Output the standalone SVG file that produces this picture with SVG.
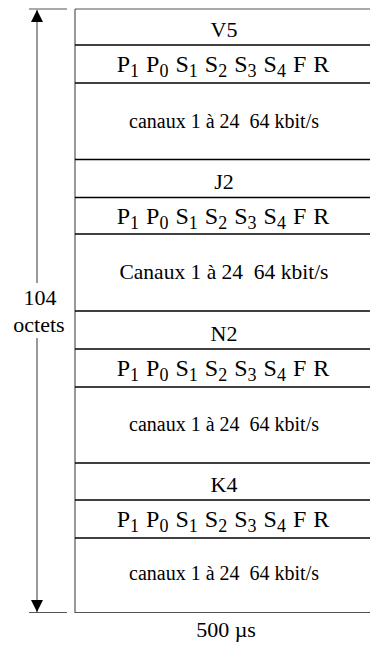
<svg xmlns="http://www.w3.org/2000/svg" width="370" height="648" viewBox="0 0 370 648">
<style>
text{font-family:'Liberation Serif','Times New Roman','DejaVu Serif',serif;font-size:22px;fill:#000;text-anchor:middle}
.p{font-size:24px;word-spacing:1px}
.sub{font-size:18px}
.ch{font-size:20px}
.ch2{font-size:21.5px}
.sep{stroke:#000;stroke-width:1.6;fill:none}
.frame{stroke:#555;stroke-width:1.2;fill:none}
.dim{stroke:#555;stroke-width:1.2;fill:none}
</style>
<defs>
<marker id="ah" viewBox="0 0 12 12" refX="12" refY="6" markerWidth="12" markerHeight="12" markerUnits="userSpaceOnUse" orient="auto"><path d="M0,0 L12,6 L0,12 Z" fill="#000"/></marker>
</defs>
<g font-family="Liberation Serif, Times New Roman, serif">
<g id="frame">
<path class="frame" d="M75,9 H370 M75,9 V612.5 H370"/>
</g>
<g id="sec-v5">
<text x="224" y="37">V5</text>
<line class="sep" x1="75" y1="45" x2="370" y2="45"/>
<text class="p" x="223" y="72">P<tspan class="sub" dy="5">1</tspan><tspan dy="-5"> P</tspan><tspan class="sub" dy="5">0</tspan><tspan dy="-5"> S</tspan><tspan class="sub" dy="5">1</tspan><tspan dy="-5"> S</tspan><tspan class="sub" dy="5">2</tspan><tspan dy="-5"> S</tspan><tspan class="sub" dy="5">3</tspan><tspan dy="-5"> S</tspan><tspan class="sub" dy="5">4</tspan><tspan dy="-5"> F R</tspan></text>
<line class="sep" x1="75" y1="83" x2="370" y2="83"/>
<text class="ch" x="224" y="128" xml:space="preserve">canaux 1 à 24  64 kbit/s</text>
<line class="sep" x1="75" y1="159.5" x2="370" y2="159.5"/>
</g>
<g id="sec-j2">
<text x="224" y="189">J2</text>
<line class="sep" x1="75" y1="197.5" x2="370" y2="197.5"/>
<text class="p" x="223" y="224">P<tspan class="sub" dy="5">1</tspan><tspan dy="-5"> P</tspan><tspan class="sub" dy="5">0</tspan><tspan dy="-5"> S</tspan><tspan class="sub" dy="5">1</tspan><tspan dy="-5"> S</tspan><tspan class="sub" dy="5">2</tspan><tspan dy="-5"> S</tspan><tspan class="sub" dy="5">3</tspan><tspan dy="-5"> S</tspan><tspan class="sub" dy="5">4</tspan><tspan dy="-5"> F R</tspan></text>
<line class="sep" x1="75" y1="234" x2="370" y2="234"/>
<text class="ch2" x="224" y="279" xml:space="preserve">Canaux 1 à 24  64 kbit/s</text>
<line class="sep" x1="75" y1="311" x2="370" y2="311"/>
</g>
<g id="sec-n2">
<text x="224" y="341">N2</text>
<line class="sep" x1="75" y1="349" x2="370" y2="349"/>
<text class="p" x="223" y="376">P<tspan class="sub" dy="5">1</tspan><tspan dy="-5"> P</tspan><tspan class="sub" dy="5">0</tspan><tspan dy="-5"> S</tspan><tspan class="sub" dy="5">1</tspan><tspan dy="-5"> S</tspan><tspan class="sub" dy="5">2</tspan><tspan dy="-5"> S</tspan><tspan class="sub" dy="5">3</tspan><tspan dy="-5"> S</tspan><tspan class="sub" dy="5">4</tspan><tspan dy="-5"> F R</tspan></text>
<line class="sep" x1="75" y1="387" x2="370" y2="387"/>
<text class="ch" x="224" y="431" xml:space="preserve">canaux 1 à 24  64 kbit/s</text>
<line class="sep" x1="75" y1="463" x2="370" y2="463"/>
</g>
<g id="sec-k4">
<text x="224" y="492">K4</text>
<line class="sep" x1="75" y1="500" x2="370" y2="500"/>
<text class="p" x="223" y="527">P<tspan class="sub" dy="5">1</tspan><tspan dy="-5"> P</tspan><tspan class="sub" dy="5">0</tspan><tspan dy="-5"> S</tspan><tspan class="sub" dy="5">1</tspan><tspan dy="-5"> S</tspan><tspan class="sub" dy="5">2</tspan><tspan dy="-5"> S</tspan><tspan class="sub" dy="5">3</tspan><tspan dy="-5"> S</tspan><tspan class="sub" dy="5">4</tspan><tspan dy="-5"> F R</tspan></text>
<line class="sep" x1="75" y1="538" x2="370" y2="538"/>
<text class="ch" x="224" y="580" xml:space="preserve">canaux 1 à 24  64 kbit/s</text>
</g>
<g id="dimension">
<line class="dim" x1="29" y1="9" x2="67" y2="9"/>
<line class="dim" x1="29" y1="612.5" x2="67" y2="612.5"/>
<line class="dim" x1="37" y1="283" x2="37" y2="10" marker-end="url(#ah)"/>
<line class="dim" x1="37" y1="338" x2="37" y2="612" marker-end="url(#ah)"/>
<text x="40" y="305">104</text>
<text x="39" y="332">octets</text>
<text x="226" y="637">500 µs</text>
</g>
</g>
</svg>
